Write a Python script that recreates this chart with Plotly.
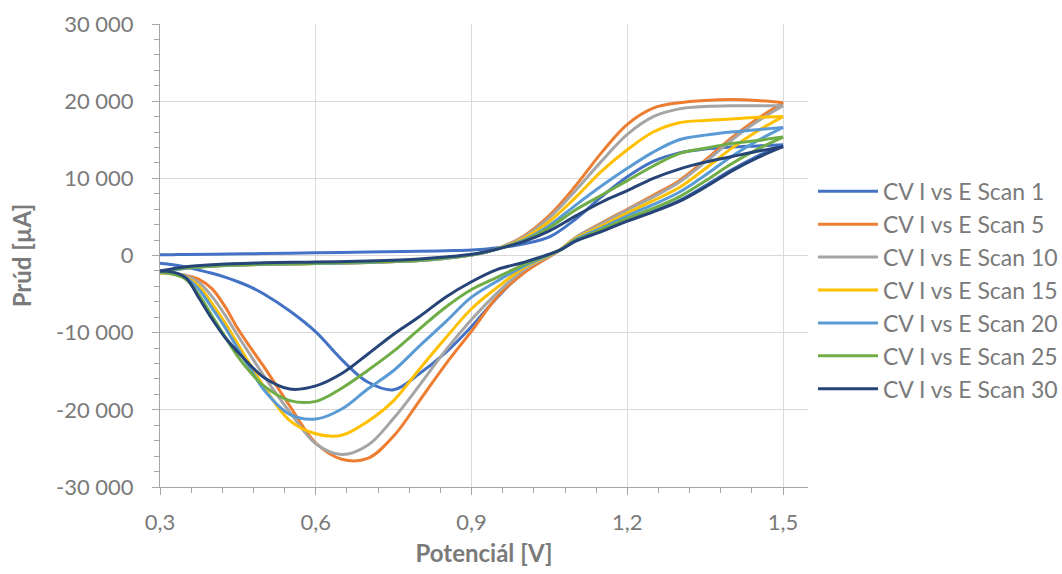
import plotly.graph_objects as go

# ---------------- data ----------------
E_FWD = [0.30, 0.325, 0.35, 0.40, 0.50, 0.60, 0.70, 0.80, 0.85, 0.90, 0.95, 1.00,
         1.05, 1.10, 1.15, 1.20, 1.25, 1.30, 1.35, 1.40, 1.45, 1.50]
E_REV = [1.50, 1.45, 1.40, 1.35, 1.30, 1.25, 1.20, 1.15, 1.10, 1.07, 1.00,
         0.95, 0.90, 0.85, 0.80, 0.75, 0.70, 0.65, 0.60, 0.55, 0.50, 0.475,
         0.45, 0.425, 0.40, 0.375, 0.35, 0.325, 0.30]

SERIES_NAMES = ["CV I vs E Scan 1", "CV I vs E Scan 5", "CV I vs E Scan 10",
                "CV I vs E Scan 15", "CV I vs E Scan 20", "CV I vs E Scan 25",
                "CV I vs E Scan 30"]

I_FWD_SCAN1 = [100, 110, 120, 150, 250, 350, 450, 550, 620, 700, 1000, 1500,
               2400, 4700, 7600, 10200, 12200, 13300, 13800, 14050, 14200, 14350]
I_REV_SCAN1 = [14350, 12850, 11070, 9030, 7120, 5750, 4520, 3160, 1860, 700, -2200,
               -5400, -9200, -12600, -15300, -17400, -16400, -13500, -9900, -7200, -5000, -4100,
               -3400, -2800, -2300, -1900, -1500, -1200, -1000]

I_FWD_SCAN5 = [-2100, -1800, -1600, -1350, -1150, -1050, -900, -650, -350, 50, 900, 2500,
               5200, 9000, 13300, 17000, 19100, 19800, 20100, 20200, 20100, 19800]
I_REV_SCAN5 = [19800, 17700, 15200, 12350, 9700, 7800, 6000, 4200, 2300, 700, -2300,
               -5300, -9800, -14100, -18800, -23400, -26300, -26400, -24300, -19500, -14400, -12000,
               -9500, -6600, -4300, -3100, -2600, -2300, -2100]

I_FWD_SCAN10 = [-2100, -1800, -1600, -1350, -1150, -1050, -900, -650, -350, 50, 900, 2400,
                4900, 8400, 12200, 15700, 18000, 19000, 19300, 19400, 19400, 19400]
I_REV_SCAN10 = [19400, 17350, 14900, 12100, 9500, 7600, 5900, 4100, 2300, 700, -1900,
                -4800, -8300, -12300, -16800, -21100, -24600, -25800, -24400, -20300, -15600, -13000,
                -10400, -7700, -5300, -3500, -2600, -2300, -2200]

I_FWD_SCAN15 = [-2200, -1900, -1650, -1400, -1150, -1050, -900, -650, -350, 50, 850, 2200,
                4400, 7500, 10900, 13700, 16000, 17200, 17500, 17700, 17900, 18000]
I_REV_SCAN15 = [18000, 16100, 13850, 11250, 8800, 7100, 5500, 3800, 2200, 700, -1600,
                -4100, -6900, -10700, -14700, -18800, -21500, -23300, -23100, -21400, -17000, -14300,
                -11500, -8700, -6200, -4000, -2800, -2400, -2300]

I_FWD_SCAN20 = [-2200, -1900, -1650, -1400, -1150, -1050, -900, -650, -350, 50, 850, 2000,
                3900, 6500, 9000, 11300, 13400, 15000, 15600, 16000, 16300, 16600]
I_REV_SCAN20 = [16600, 14850, 12800, 10400, 8200, 6600, 5150, 3550, 2050, 700, -1400,
                -3300, -5400, -8600, -11700, -14900, -17300, -19900, -21200, -20600, -17400, -14800,
                -12100, -9300, -6800, -4400, -2900, -2400, -2200]

I_FWD_SCAN25 = [-2100, -1800, -1600, -1350, -1100, -1000, -850, -600, -300, 100, 850, 1900,
                3600, 5900, 7800, 9700, 11600, 13200, 13900, 14500, 14900, 15350]
I_REV_SCAN25 = [15350, 13750, 11850, 9650, 7600, 6100, 4800, 3350, 1950, 700, -1200,
                -2800, -4400, -6700, -9500, -12400, -14900, -17200, -18900, -18800, -16900, -15200,
                -13100, -10500, -7800, -5100, -3100, -2400, -2100]

I_FWD_SCAN30 = [-2000, -1700, -1450, -1200, -950, -850, -700, -450, -200, 150, 850, 1800,
                3200, 5100, 6900, 8400, 10000, 11200, 12100, 12800, 13500, 14100]
I_REV_SCAN30 = [14100, 12650, 10900, 8850, 7000, 5650, 4450, 3100, 1850, 700, -900,
                -1800, -3400, -5400, -7900, -10200, -12800, -15300, -16900, -17300, -15800, -14300,
                -12500, -10600, -8200, -5500, -2900, -2150, -2000]

X_TICK_VALS = [0.3, 0.6, 0.9, 1.2, 1.5]
X_TICK_LABELS = ["0,3", "0,6", "0,9", "1,2", "1,5"]
Y_TICK_VALS = [-30000, -20000, -10000, 0, 10000, 20000, 30000]
Y_TICK_LABELS = ["-30 000", "-20 000", "-10 000", "0", "10 000", "20 000", "30 000"]

COLORS = ["#4472C4", "#ED7D31", "#A5A5A5", "#FFC000", "#5B9BD5", "#70AD47", "#264478"]

FWD = [I_FWD_SCAN1, I_FWD_SCAN5, I_FWD_SCAN10, I_FWD_SCAN15, I_FWD_SCAN20, I_FWD_SCAN25, I_FWD_SCAN30]
REV = [I_REV_SCAN1, I_REV_SCAN5, I_REV_SCAN10, I_REV_SCAN15, I_REV_SCAN20, I_REV_SCAN25, I_REV_SCAN30]

# ---------------- figure ----------------
TEXT = "#7a7a7a"
AXIS = "#a6a6a6"
GRID = "#d9d9d9"
FONT = "Lato"

fig = go.Figure()
for name, color, fwd, rev in zip(SERIES_NAMES, COLORS, FWD, REV):
    line = dict(color=color, width=3, shape="spline", smoothing=1.0)
    fig.add_trace(go.Scatter(x=E_FWD, y=fwd, mode="lines", line=line, name=name,
                             legendgroup=name, showlegend=True))
    fig.add_trace(go.Scatter(x=E_REV, y=rev, mode="lines", line=line, name=name,
                             legendgroup=name, showlegend=False))

fig.update_layout(
    width=1062, height=574,
    margin=dict(l=160, r=254, t=24, b=87, autoexpand=False),
    paper_bgcolor="white", plot_bgcolor="white",
    font=dict(family=FONT, size=22, color=TEXT),
    legend=dict(x=1.0077, y=0.685, xanchor="left", yanchor="top",
                font=dict(family=FONT, size=23, color=TEXT),
                traceorder="normal",
                bgcolor="rgba(0,0,0,0)", itemwidth=60),
    xaxis=dict(range=[0.3, 1.548], tickmode="array", tickvals=X_TICK_VALS, ticktext=X_TICK_LABELS,
               ticks="outside", ticklen=7, tickcolor=AXIS, showline=True, linecolor=AXIS, linewidth=1,
               showgrid=True, gridcolor=GRID, gridwidth=1, zeroline=False,
               ticklabelstandoff=9, tickfont=dict(family=FONT, size=22, color=TEXT),
               minor=dict(tick0=0.3, dtick=0.06, ticks="outside", ticklen=5, tickcolor=AXIS, showgrid=False),
               title=dict(text="<b>Potenciál [V]</b>", font=dict(family=FONT, size=24, color=TEXT), standoff=10)),
    yaxis=dict(range=[-30000, 30000], tickmode="array", tickvals=Y_TICK_VALS, ticktext=Y_TICK_LABELS,
               ticks="outside", ticklen=7, tickcolor=AXIS, showline=True, linecolor=AXIS, linewidth=1,
               showgrid=True, gridcolor=GRID, gridwidth=1, zeroline=False,
               ticklabelstandoff=14, tickfont=dict(family=FONT, size=22, color=TEXT),
               minor=dict(tick0=0, dtick=2000, ticks="outside", ticklen=5, tickcolor=AXIS, showgrid=False),
               title=dict(text="<b>Prúd [µA]</b>", font=dict(family=FONT, size=24, color=TEXT), standoff=17)),
)

fig.write_html("out.html")
